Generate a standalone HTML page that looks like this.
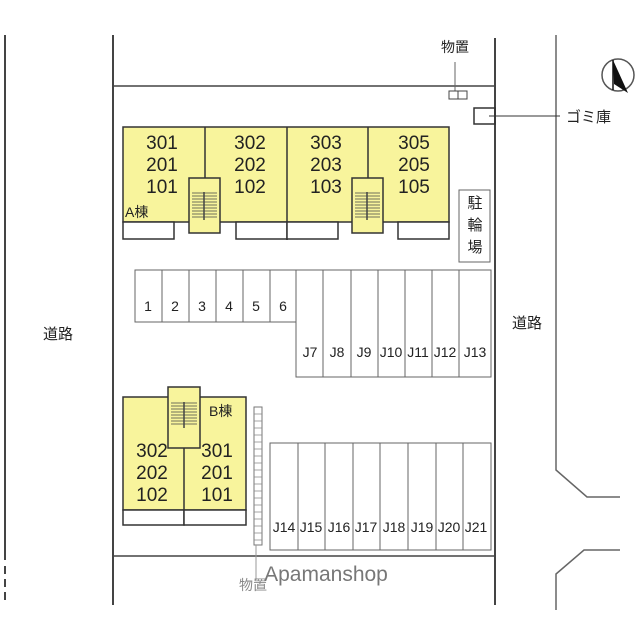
<!DOCTYPE html>
<html><head><meta charset="utf-8"><style>
html,body{margin:0;padding:0;background:#fff}
svg{display:block}
text{font-family:"Liberation Sans","Noto Sans CJK JP",sans-serif;fill:#222}
</style></head><body>
<svg width="640" height="640" viewBox="0 0 640 640" xmlns="http://www.w3.org/2000/svg">
<g stroke="#444" stroke-width="2" fill="none">
<line x1="5" y1="35" x2="5" y2="560"/>
<line x1="5" y1="566" x2="5" y2="605" stroke-dasharray="8,5"/>
<line x1="113" y1="35" x2="113" y2="605"/>
<line x1="495" y1="38" x2="495" y2="605"/>
<line x1="113" y1="86" x2="495" y2="86" stroke-width="1.5"/>
<line x1="113" y1="556" x2="495" y2="556" stroke-width="1.5"/>
<polyline points="556,35 556,470 587,497 620,497" stroke-width="1.5" stroke="#666"/>
<polyline points="620,550 584,550 556,574 556,610" stroke-width="1.5" stroke="#666"/>
</g>
<line x1="455" y1="62" x2="455" y2="91" stroke="#666" stroke-width="1"/>
<rect x="449" y="91" width="18" height="8" fill="none" stroke="#444" stroke-width="1"/>
<line x1="458" y1="91" x2="458" y2="99" stroke="#444" stroke-width="1"/>
<text x="455" y="52" font-size="14" text-anchor="middle">物置</text>
<rect x="474" y="108" width="21" height="16" fill="none" stroke="#333" stroke-width="1.5"/>
<line x1="489" y1="116" x2="560" y2="116" stroke="#333" stroke-width="1"/>
<text x="566" y="122" font-size="15">ゴミ庫</text>
<circle cx="618" cy="75" r="16" fill="none" stroke="#555" stroke-width="1.5"/>
<polygon points="613,60 628,93 614,84" fill="#111"/>
<line x1="613" y1="60" x2="613" y2="90" stroke="#111" stroke-width="1.5"/>
<g stroke="#333" stroke-width="1.5">
<rect x="123" y="127" width="326" height="95" fill="#f8f49c"/>
<line x1="205" y1="127" x2="205" y2="178"/>
<line x1="287" y1="127" x2="287" y2="240"/>
<line x1="368" y1="127" x2="368" y2="178"/>
<rect x="123" y="222" width="51" height="17" fill="#fff"/>
<rect x="236" y="222" width="51" height="17" fill="#fff"/>
<rect x="287" y="222" width="51" height="17" fill="#fff"/>
<rect x="398" y="222" width="51" height="17" fill="#fff"/>
<rect x="189" y="178" width="31" height="55" fill="#f8f49c"/>
<rect x="352" y="178" width="31" height="55" fill="#f8f49c"/>
</g>
<g stroke="#444" stroke-width="0.8">
<path d="M192 193h25M192 196h25M192 199h25M192 202h25M192 205h25M192 208h25M192 211h25M192 214h25M192 217h25"/>
<path d="M355 193h25M355 196h25M355 199h25M355 202h25M355 205h25M355 208h25M355 211h25M355 214h25M355 217h25"/>
<line x1="204" y1="192" x2="204" y2="220" stroke-width="1.5"/>
<line x1="367" y1="192" x2="367" y2="220" stroke-width="1.5"/>
</g>
<g font-size="19" text-anchor="middle">
<text x="162" y="149">301</text><text x="162" y="171">201</text><text x="162" y="193">101</text>
<text x="250" y="149">302</text><text x="250" y="171">202</text><text x="250" y="193">102</text>
<text x="326" y="149">303</text><text x="326" y="171">203</text><text x="326" y="193">103</text>
<text x="414" y="149">305</text><text x="414" y="171">205</text><text x="414" y="193">105</text>
</g>
<text x="125" y="217" font-size="14">A棟</text>
<rect x="459" y="190" width="31" height="72" fill="none" stroke="#666" stroke-width="1"/>
<g font-size="15" text-anchor="middle"><text x="475" y="208">駐</text><text x="475" y="230">輪</text><text x="475" y="252">場</text></g>
<g stroke="#666" stroke-width="1" fill="none">
<polyline points="296,322 135,322 135,270 491,270 491,377 296,377 296,270"/>
<path d="M162 270v52M189 270v52M216 270v52M243 270v52M270 270v52M323 270v107M351 270v107M378 270v107M405 270v107M432 270v107M459 270v107"/>
<rect x="270" y="443" width="221" height="107"/>
<path d="M298 443v107M325 443v107M353 443v107M380 443v107M408 443v107M436 443v107M463 443v107"/>
</g>
<g font-size="14" text-anchor="middle">
<text x="148" y="311">1</text><text x="175" y="311">2</text><text x="202" y="311">3</text><text x="229" y="311">4</text><text x="256" y="311">5</text><text x="283" y="311">6</text>
<text x="310" y="357">J7</text><text x="337" y="357">J8</text><text x="364" y="357">J9</text><text x="391" y="357">J10</text><text x="418" y="357">J11</text><text x="445" y="357">J12</text><text x="475" y="357">J13</text>
<text x="284" y="532">J14</text><text x="311" y="532">J15</text><text x="339" y="532">J16</text><text x="366" y="532">J17</text><text x="394" y="532">J18</text><text x="422" y="532">J19</text><text x="449" y="532">J20</text><text x="476" y="532">J21</text>
</g>
<g stroke="#333" stroke-width="1.5">
<rect x="123" y="397" width="123" height="113" fill="#f8f49c"/>
<rect x="123" y="510" width="61" height="15" fill="#fff"/>
<rect x="184" y="510" width="62" height="15" fill="#fff"/>
<line x1="184" y1="448" x2="184" y2="510"/>
<rect x="168" y="387" width="32" height="61" fill="#f8f49c"/>
</g>
<g stroke="#444" stroke-width="0.8">
<path d="M171 403h26M171 406h26M171 409h26M171 412h26M171 415h26M171 418h26M171 421h26M171 424h26"/>
<line x1="184" y1="402" x2="184" y2="428" stroke-width="1.5"/>
</g>
<text x="209" y="416" font-size="14">B棟</text>
<g font-size="19" text-anchor="middle">
<text x="152" y="457">302</text><text x="152" y="479">202</text><text x="152" y="501">102</text>
<text x="217" y="457">301</text><text x="217" y="479">201</text><text x="217" y="501">101</text>
</g>
<rect x="254" y="407" width="8" height="138" fill="none" stroke="#777" stroke-width="1"/>
<path d="M254 414h8M254 421h8M254 428h8M254 435h8M254 442h8M254 449h8M254 456h8M254 463h8M254 470h8M254 477h8M254 484h8M254 491h8M254 498h8M254 505h8M254 512h8M254 519h8M254 526h8M254 533h8M254 540h8" stroke="#888" stroke-width="0.8"/>
<line x1="256" y1="545" x2="256" y2="580" stroke="#999" stroke-width="1"/>
<text x="253" y="590" font-size="14" text-anchor="middle" style="fill:#888">物置</text>
<text x="326" y="581" font-size="21" text-anchor="middle" style="fill:#777">Apamanshop</text>
<text x="58" y="339" font-size="15" text-anchor="middle">道路</text>
<text x="527" y="328" font-size="15" text-anchor="middle">道路</text>
</svg>
</body></html>
